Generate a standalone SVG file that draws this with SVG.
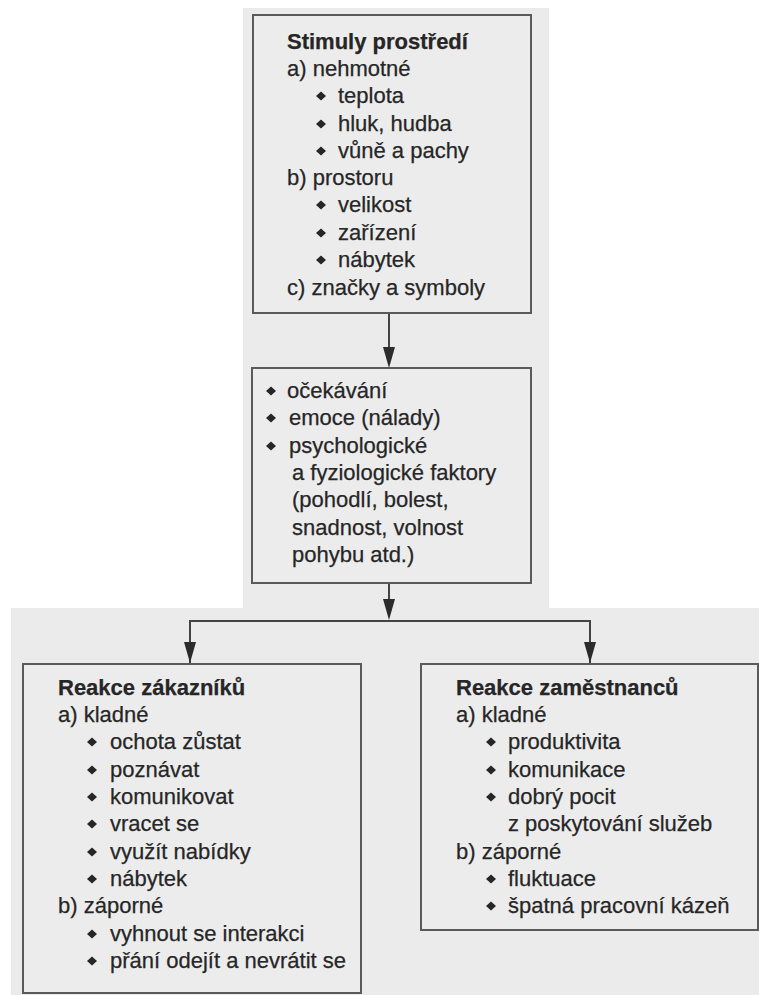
<svg xmlns="http://www.w3.org/2000/svg" width="759" height="995" viewBox="0 0 759 995">
  <style>
    .box { fill: #ececec; stroke: #5a5a5a; stroke-width: 2; }
    .t { font-family: "Liberation Sans", Arial, sans-serif; font-size: 22px; fill: #262626; stroke: #262626; stroke-width: 0.25; }
    .b { font-weight: bold; }
    .line { fill: none; stroke: #444444; stroke-width: 2; }
    .dot { fill: #262626; }
    .head { fill: #2b2b2b; }
  </style>
  <defs>
    <path id="dia" d="M0,-4.5 L5,0 L0,4.5 L-5,0 Z"/>
  </defs>

  <rect width="759" height="995" fill="#ffffff"/>
  <!-- page backdrop -->
  <path d="M243,8 H549 V608 H759 V995 H11 V608 H243 Z" fill="#ebebeb"/>

  <!-- connectors -->
  <g id="connectors">
    <line class="line" x1="389" y1="313" x2="389" y2="348"/>
    <path class="head" d="M383,347 L395,347 L389,368 Z"/>
    <line class="line" x1="389" y1="583" x2="389" y2="600"/>
    <path class="head" d="M383,599 L395,599 L389,620 Z"/>
    <path class="line" d="M190,664 V621 H590 V664"/>
    <path class="head" d="M184,642 L196,642 L190,663 Z"/>
    <path class="head" d="M584,642 L596,642 L590,663 Z"/>
  </g>

  <!-- environment stimuli -->
  <g id="stimuly">
    <rect class="box" x="253" y="15" width="278" height="298"/>
    <text class="t b" x="287" y="49">Stimuly prostředí</text>
    <text class="t" x="287" y="76">a) nehmotné</text>
    <use href="#dia" class="dot" x="321" y="96"/>
    <text class="t" x="338" y="103">teplota</text>
    <use href="#dia" class="dot" x="321" y="124"/>
    <text class="t" x="338" y="131">hluk, hudba</text>
    <use href="#dia" class="dot" x="321" y="151"/>
    <text class="t" x="338" y="158">vůně a pachy</text>
    <text class="t" x="287" y="185">b) prostoru</text>
    <use href="#dia" class="dot" x="321" y="205"/>
    <text class="t" x="338" y="212">velikost</text>
    <use href="#dia" class="dot" x="321" y="233"/>
    <text class="t" x="338" y="240">zařízení</text>
    <use href="#dia" class="dot" x="321" y="260"/>
    <text class="t" x="338" y="267">nábytek</text>
    <text class="t" x="287" y="295">c) značky a symboly</text>
  </g>

  <!-- internal responses -->
  <g id="vnitrni">
    <rect class="box" x="252" y="368" width="279" height="215"/>
    <use href="#dia" class="dot" x="271" y="391"/>
    <text class="t" x="287" y="398">očekávání</text>
    <use href="#dia" class="dot" x="271" y="418"/>
    <text class="t" x="289" y="425">emoce (nálady)</text>
    <use href="#dia" class="dot" x="271" y="446"/>
    <text class="t" x="289" y="453">psychologické</text>
    <text class="t" x="292" y="480">a fyziologické faktory</text>
    <text class="t" x="292" y="507">(pohodlí, bolest,</text>
    <text class="t" x="292" y="535">snadnost, volnost</text>
    <text class="t" x="292" y="562">pohybu atd.)</text>
  </g>

  <!-- customer responses -->
  <g id="zakaznici">
    <rect class="box" x="23" y="664" width="338" height="329"/>
    <text class="t b" x="58" y="695">Reakce zákazníků</text>
    <text class="t" x="58" y="722">a) kladné</text>
    <use href="#dia" class="dot" x="92" y="742"/>
    <text class="t" x="110" y="749">ochota zůstat</text>
    <use href="#dia" class="dot" x="92" y="770"/>
    <text class="t" x="110" y="777">poznávat</text>
    <use href="#dia" class="dot" x="92" y="797"/>
    <text class="t" x="110" y="804">komunikovat</text>
    <use href="#dia" class="dot" x="92" y="824"/>
    <text class="t" x="110" y="831">vracet se</text>
    <use href="#dia" class="dot" x="92" y="852"/>
    <text class="t" x="110" y="859">využít nabídky</text>
    <use href="#dia" class="dot" x="92" y="879"/>
    <text class="t" x="110" y="886">nábytek</text>
    <text class="t" x="58" y="913">b) záporné</text>
    <use href="#dia" class="dot" x="92" y="934"/>
    <text class="t" x="110" y="941">vyhnout se interakci</text>
    <use href="#dia" class="dot" x="92" y="961"/>
    <text class="t" x="110" y="968">přání odejít a nevrátit se</text>
  </g>

  <!-- employee responses -->
  <g id="zamestnanci">
    <rect class="box" x="421" y="664" width="337" height="266"/>
    <text class="t b" x="456" y="695">Reakce zaměstnanců</text>
    <text class="t" x="456" y="722">a) kladné</text>
    <use href="#dia" class="dot" x="491" y="742"/>
    <text class="t" x="508" y="749">produktivita</text>
    <use href="#dia" class="dot" x="491" y="770"/>
    <text class="t" x="508" y="777">komunikace</text>
    <use href="#dia" class="dot" x="491" y="797"/>
    <text class="t" x="508" y="804">dobrý pocit</text>
    <text class="t" x="508" y="831">z poskytování služeb</text>
    <text class="t" x="456" y="859">b) záporné</text>
    <use href="#dia" class="dot" x="491" y="879"/>
    <text class="t" x="508" y="886">fluktuace</text>
    <use href="#dia" class="dot" x="491" y="906"/>
    <text class="t" x="508" y="913">špatná pracovní kázeň</text>
  </g>
</svg>
